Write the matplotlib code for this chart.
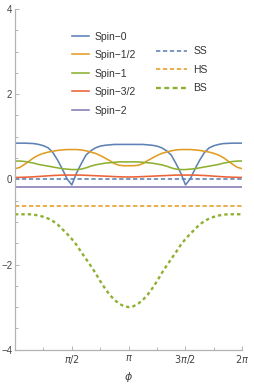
import numpy as np
import matplotlib
matplotlib.use("Agg")
import matplotlib.pyplot as plt
from matplotlib.lines import Line2D
from matplotlib.ticker import FixedLocator, MultipleLocator

plt.rcParams['font.family'] = ['Liberation Sans', 'DejaVu Sans']
plt.rcParams['mathtext.fontset'] = 'dejavusans'
plt.rcParams['lines.scale_dashes'] = False

# ---- data ----
phi = np.arange(49) * np.pi / 24  # 0 .. 2pi

spin0 = [0.85, 0.85, 0.85, 0.845, 0.84, 0.82, 0.79, 0.74, 0.63, 0.45, 0.24, 0.01,
         -0.13, 0.15, 0.37, 0.57, 0.67, 0.74, 0.78, 0.80, 0.81, 0.82, 0.82, 0.82,
         0.82,
         0.82, 0.82, 0.82, 0.81, 0.80, 0.78, 0.74, 0.67, 0.57, 0.37, 0.15, -0.13,
         0.01, 0.24, 0.45, 0.63, 0.74, 0.79, 0.82, 0.84, 0.845, 0.85, 0.85, 0.85]
spin12 = [0.25, 0.28, 0.35, 0.43, 0.51, 0.57, 0.61, 0.64, 0.66, 0.68, 0.69, 0.70,
          0.70, 0.70, 0.69, 0.67, 0.64, 0.61, 0.56, 0.50, 0.44, 0.37, 0.33, 0.32,
          0.32,
          0.32, 0.33, 0.37, 0.44, 0.50, 0.56, 0.61, 0.64, 0.67, 0.69, 0.70, 0.70,
          0.70, 0.69, 0.68, 0.66, 0.64, 0.61, 0.57, 0.51, 0.43, 0.35, 0.28, 0.25]
spin1 = [0.43, 0.43, 0.42, 0.40, 0.38, 0.35, 0.33, 0.31, 0.29, 0.27, 0.25, 0.24,
         0.23, 0.23, 0.24, 0.27, 0.31, 0.34, 0.36, 0.38, 0.39, 0.40, 0.41, 0.41,
         0.41,
         0.41, 0.41, 0.40, 0.39, 0.38, 0.36, 0.34, 0.31, 0.27, 0.24, 0.23, 0.23,
         0.24, 0.25, 0.27, 0.29, 0.31, 0.33, 0.35, 0.38, 0.40, 0.42, 0.43, 0.43]
spin32 = [0.045, 0.047, 0.05, 0.055, 0.06, 0.068, 0.075, 0.083, 0.09, 0.095, 0.10, 0.10,
          0.10, 0.10, 0.10, 0.095, 0.09, 0.085, 0.08, 0.075, 0.07, 0.065, 0.06, 0.057,
          0.055,
          0.057, 0.06, 0.065, 0.07, 0.075, 0.08, 0.085, 0.09, 0.095, 0.10, 0.10, 0.10,
          0.10, 0.10, 0.095, 0.09, 0.083, 0.075, 0.068, 0.06, 0.055, 0.05, 0.047, 0.045]
spin2 = [-0.18] * 49
ss = [0.0] * 49
hs = [-0.62] * 49
bs = [-0.82, -0.82, -0.82, -0.82, -0.83, -0.85, -0.88, -0.92, -0.98, -1.06, -1.17, -1.28,
      -1.40, -1.54, -1.71, -1.87, -2.03, -2.20, -2.39, -2.56, -2.71, -2.83, -2.92, -2.98,
      -3.00,
      -2.98, -2.92, -2.83, -2.71, -2.56, -2.39, -2.20, -2.03, -1.87, -1.71, -1.54, -1.40,
      -1.28, -1.17, -1.06, -0.98, -0.92, -0.88, -0.85, -0.83, -0.82, -0.82, -0.82, -0.82]

solid_labels = ['Spin\u22120', 'Spin\u22121/2', 'Spin\u22121', 'Spin\u22123/2', 'Spin\u22122']
dashed_labels = ['SS', 'HS', 'BS']
xtick_labels = [r'$\pi/2$', r'$\pi$', r'$3\pi/2$', r'$2\pi$']
ytick_labels = ['\u22124', '\u22122', '0', '2', '4']

C = ['#5E81B5', '#E19C24', '#8FB032', '#EB6235', '#8778B3']

# ---- figure ----
W, H = 255, 385
fig = plt.figure(figsize=(W / 100, H / 100), dpi=100)
ax = fig.add_axes([15 / W, (H - 349.7) / H, 227.3 / W, 340.7 / H])

lw = 1.15
for y, c in zip([spin0, spin12, spin1, spin32, spin2], C):
    ax.plot(phi, y, color=c, lw=lw, solid_capstyle='butt')
ax.plot(phi, ss, color=C[0], lw=lw, dashes=(3.1, 1.9), dash_capstyle='butt')
ax.plot(phi, hs, color=C[1], lw=lw, dashes=(3.1, 1.9), dash_capstyle='butt')
ax.plot(phi, bs, color=C[2], lw=1.7, dashes=(2.4, 2.2), dash_capstyle='butt')

ax.set_xlim(0, 2 * np.pi)
ax.set_ylim(-4, 4)

for s in ['top', 'right']:
    ax.spines[s].set_visible(False)
for s in ['left', 'bottom']:
    ax.spines[s].set_color('#b3b3b3')
    ax.spines[s].set_linewidth(0.9)

ax.xaxis.set_major_locator(FixedLocator([np.pi / 2, np.pi, 3 * np.pi / 2, 2 * np.pi]))
ax.xaxis.set_minor_locator(FixedLocator([np.pi / 4, 3 * np.pi / 4, 5 * np.pi / 4, 7 * np.pi / 4]))
ax.set_xticklabels(xtick_labels)
ax.set_yticks([-4, -2, 0, 2, 4])
ax.set_yticklabels(ytick_labels)
ax.yaxis.set_minor_locator(MultipleLocator(0.5))
ax.tick_params(which='both', direction='in', color='#b3b3b3', width=0.7,
               labelsize=7, labelcolor='#444444')
ax.tick_params(which='major', length=3.0)
ax.tick_params(which='minor', length=2.0)
ax.tick_params(axis='x', pad=2.5)
ax.tick_params(axis='y', pad=2.0)

ax.set_xlabel(r'$\phi$', fontsize=8, color='#444444', labelpad=3.0)

# ---- legends ----
fs = 7.5
h1 = [Line2D([], [], color=c, lw=lw) for c in C]
h2 = [Line2D([], [], color=C[0], lw=lw, dashes=(3.1, 1.9)),
      Line2D([], [], color=C[1], lw=lw, dashes=(3.1, 1.9)),
      Line2D([], [], color=C[2], lw=1.7, dashes=(3.5, 2.5))]
leg1 = fig.legend(h1, solid_labels, loc='upper left',
                  bbox_to_anchor=(72.3 / W, 1 - 31.5 / H), bbox_transform=fig.transFigure,
                  frameon=False, fontsize=fs, handlelength=1.6, handletextpad=0.5,
                  labelspacing=0.82, borderpad=0, borderaxespad=0)
for t in leg1.get_texts():
    t.set_color('#333333')
leg2 = fig.legend(h2, dashed_labels, loc='upper left',
                  bbox_to_anchor=(155.7 / W, 1 - 46.2 / H), bbox_transform=fig.transFigure,
                  frameon=False, fontsize=fs, handlelength=2.97, handletextpad=0.63,
                  labelspacing=0.82, borderpad=0, borderaxespad=0)
for t in leg2.get_texts():
    t.set_color('#333333')

fig.savefig('out.png', dpi=100)
